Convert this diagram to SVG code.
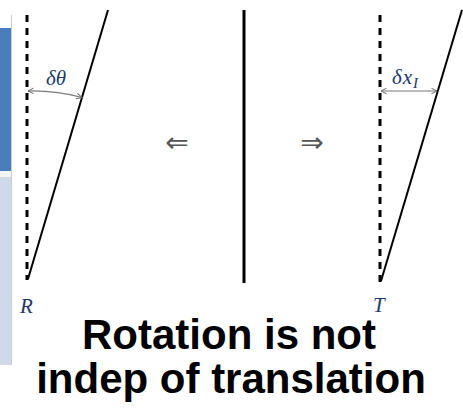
<svg xmlns="http://www.w3.org/2000/svg" width="463" height="412" viewBox="0 0 463 412">
<style>
.dash{stroke:#000;stroke-width:3;stroke-dasharray:7 6;fill:none}
.solid{stroke:#000;stroke-width:2;fill:none}
.dim{stroke:#7a7a7a;stroke-width:1.2;fill:none;marker-start:url(#ah);marker-end:url(#ah)}
.math{font-family:"Liberation Serif","DejaVu Serif",serif;font-style:italic;font-size:21px;fill:#22396a}
.op{font-family:"DejaVu Sans",sans-serif;font-size:28px;fill:#555;text-anchor:middle}
.title{font-family:"Liberation Sans",Arial,sans-serif;font-weight:bold;font-size:42px;fill:#000;text-anchor:middle}
</style>
<defs>
<marker id="ah" viewBox="0 0 10 10" refX="9" refY="5" markerWidth="7" markerHeight="7" orient="auto-start-reverse" markerUnits="userSpaceOnUse">
<path d="M1,1 L9,5 L1,9" fill="none" stroke="#6a6a6a" stroke-width="1.4"/>
</marker>
</defs>
<rect width="463" height="412" fill="#fff"/>
<g id="sidepanel">
<rect x="0" y="28" width="11" height="143" fill="#4a7ebb"/>
<rect x="0" y="171" width="11" height="6" fill="#f2f4f8"/>
<rect x="0" y="177" width="11" height="188" fill="#d0d9ea"/>
<line x1="11.5" y1="15" x2="11.5" y2="365" stroke="#c9ccd2" stroke-width="1"/>
</g>
<g id="rotation">
<line class="dash" x1="27" y1="15" x2="27" y2="280"/>
<line class="solid" x1="28" y1="279" x2="108" y2="10"/>
<text class="math" x="46" y="85">δθ</text>
<text class="math" x="20" y="313" font-size="18">R</text>
</g>
<g id="divider">
<line x1="244" y1="10" x2="244" y2="283" stroke="#000" stroke-width="3"/>
<text class="op" x="177" y="152">⇐</text>
<text class="op" x="312" y="152">⇒</text>
</g>
<g id="translation">
<line class="dash" x1="380" y1="15" x2="380" y2="282"/>
<line class="solid" x1="381" y1="281" x2="462" y2="10"/>
<text class="math" x="392" y="84">δ<tspan dx="1">x</tspan><tspan font-size="15" dx="1" dy="4">I</tspan></text>
<text class="math" x="373" y="312" font-size="18">T</text>
</g>
<g id="connectors">
<path class="dim" d="M28,91 A188,188 0 0 1 82,97.5"/>
<line class="dim" x1="381" y1="91" x2="437" y2="91"/>
</g>
<g id="caption">
<text class="title" x="229" y="349">Rotation is not</text>
<text class="title" x="231" y="393">indep of translation</text>
</g>
</svg>
